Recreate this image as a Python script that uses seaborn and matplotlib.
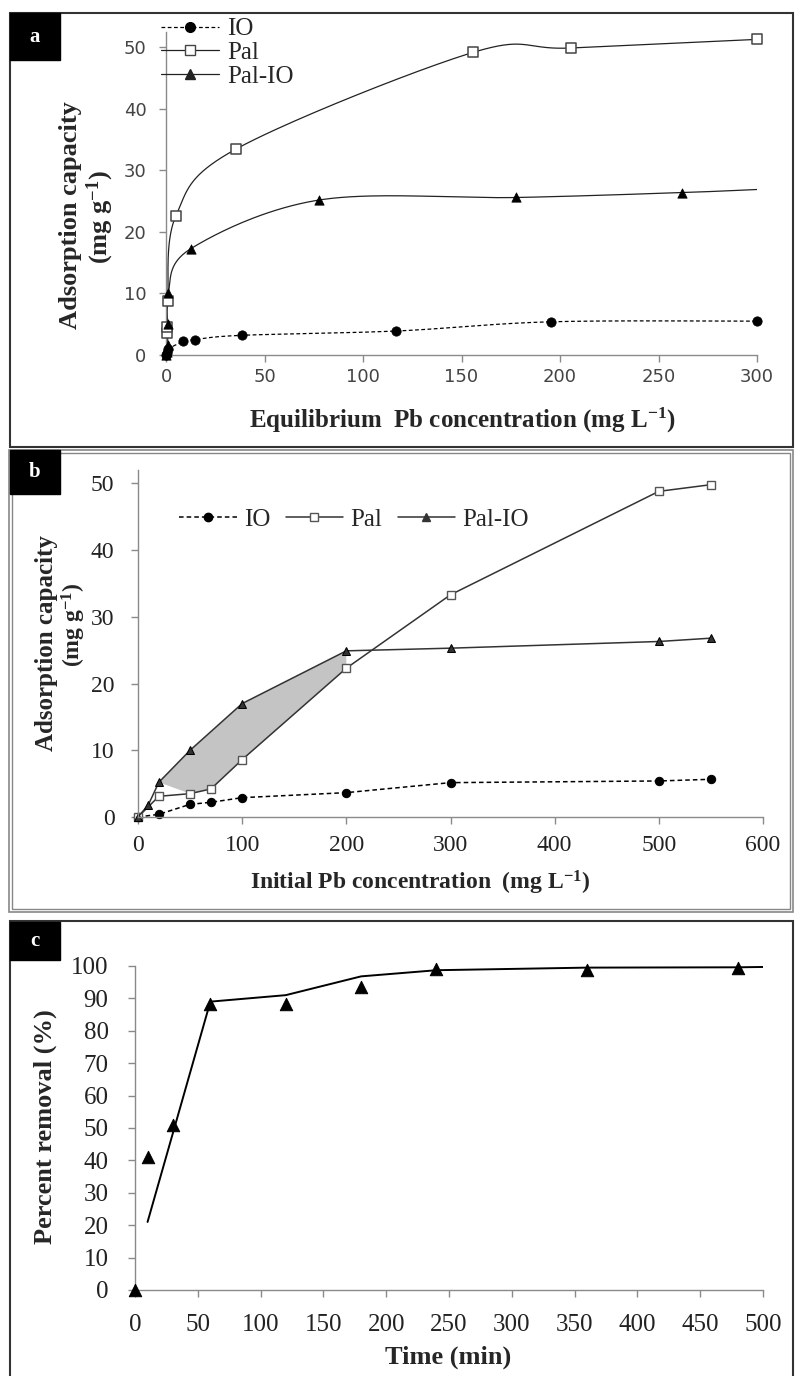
import numpy as np
import matplotlib
matplotlib.use('Agg')
import matplotlib.pyplot as plt
import seaborn as sns
from matplotlib.lines import Line2D
from matplotlib.patches import Rectangle

# panel a - equilibrium isotherm
a_io_x = [0, 0.3, 0.8, 8.8, 14.7, 38.4, 117, 195.5, 300]
a_io_y = [0, 0.3, 0.9, 2.2, 2.5, 3.2, 3.9, 5.4, 5.5]
a_pal_x = [0.3, 0.6, 0.9, 5, 35.7, 156, 205.5, 300]
a_pal_y = [3.5, 4.5, 8.7, 22.6, 33.5, 49.2, 49.9, 51.3]
a_palio_x = [0, 0.3, 0.8, 0.9, 1.0, 12.7, 77.9, 177.8, 261.7, 300]
a_palio_y = [0, 0.5, 1.6, 5.1, 10.0, 17.3, 25.2, 25.6, 26.4, 26.9]

# panel b - initial concentration
b_io_x = [0, 20, 50, 70, 100, 200, 300, 500, 550]
b_io_y = [0, 0.4, 1.9, 2.2, 2.9, 3.65, 5.15, 5.4, 5.65]
b_pal_x = [0, 20, 50, 70, 100, 200, 300, 500, 550]
b_pal_y = [0, 3.1, 3.5, 4.2, 8.6, 22.3, 33.3, 48.8, 49.8]
b_palio_x = [0, 10, 20, 50, 100, 200, 300, 500, 550]
b_palio_y = [0, 1.85, 5.2, 10.0, 17.0, 24.9, 25.3, 26.3, 26.8]

# panel c - kinetics
c_time = [0, 10, 30, 60, 120, 180, 240, 360, 480]
c_removal = [0, 41.2, 50.9, 88.2, 88.2, 93.4, 99.0, 98.8, 99.4]
c_fit_time = [10, 60, 120, 180, 240, 360, 480, 500]
c_fit_removal = [21.0, 89.0, 91.0, 96.8, 98.7, 99.5, 99.6, 99.7]

W, H = 795, 1376

sns.set_theme(style='white')
plt.rcParams['font.family'] = ['Liberation Serif', 'DejaVu Serif']
plt.rcParams['mathtext.fontset'] = 'custom'
plt.rcParams['mathtext.rm'] = 'Liberation Serif'
plt.rcParams['mathtext.bf'] = 'Liberation Serif:bold'
plt.rcParams['mathtext.it'] = 'Liberation Serif:italic'


def box(x0, y0, x1, y1):
    return [x0 / W, 1 - y1 / H, (x1 - x0) / W, (y1 - y0) / H]


def smooth(x, y, n=40):
    # excel style bezier smoothing
    p = np.column_stack([x, y]).astype(float)
    ext = np.vstack([p[0], p, p[-1]])
    t = np.linspace(0, 1, n)[:, None]
    out = []
    for i in range(1, len(p)):
        p0, p1, p2, p3 = ext[i - 1], ext[i], ext[i + 1], ext[i + 2]
        c1 = p1 + (p2 - p0) / 6
        c2 = p2 - (p3 - p1) / 6
        out.append((1 - t) ** 3 * p1 + 3 * (1 - t) ** 2 * t * c1 + 3 * (1 - t) * t ** 2 * c2 + t ** 3 * p2)
    s = np.vstack(out)
    return s[:, 0], s[:, 1]


def style_axes(ax, spine='#8a8a8a'):
    sns.despine(ax=ax)
    for s in ['left', 'bottom']:
        ax.spines[s].set_color(spine)
        ax.spines[s].set_linewidth(1.0)
    ax.tick_params(axis='both', direction='out', length=5, width=1, color=spine,
                   left=True, bottom=True)


def frame(x0, y0, x1, y1, **kw):
    fig.add_artist(Rectangle((x0 / W, 1 - y1 / H), (x1 - x0) / W, (y1 - y0) / H,
                             transform=fig.transFigure, fill=False, **kw))


def tag(x0, y0, x1, y1, letter):
    fig.add_artist(Rectangle((x0 / W, 1 - y1 / H), (x1 - x0) / W, (y1 - y0) / H,
                             transform=fig.transFigure, color='black', zorder=5))
    fig.text((x0 + x1) / 2 / W, 1 - (y0 + y1) / 2 / H, letter, color='white',
             fontsize=15, fontweight='bold', ha='center', va='center', zorder=6)


fig = plt.figure(figsize=(W / 100, H / 100), dpi=100)

# frames
frame(10, 13, 793, 447, ec='#333333', lw=1.5)
frame(9, 450, 793, 912, ec='#888888', lw=1.2)
frame(12, 453, 790, 909, ec='#888888', lw=1.0)
frame(10, 921, 793, 1390, ec='#333333', lw=1.5)
tag(10, 13, 60, 60, 'a')
tag(10, 450, 60, 494, 'b')
tag(10, 922, 60, 960, 'c')

# ---------------- panel a ----------------
ax = fig.add_axes(box(166, 32, 757, 355))
sx, sy = smooth(a_io_x, a_io_y)
sns.lineplot(x=sx, y=sy, sort=False, estimator=None, ax=ax, color='black', lw=0.9, linestyle=(0, (3, 2)))
sx, sy = smooth(a_pal_x, a_pal_y)
sns.lineplot(x=sx, y=sy, sort=False, estimator=None, ax=ax, color='#222222', lw=0.9)
sx, sy = smooth(a_palio_x, a_palio_y)
sns.lineplot(x=sx, y=sy, sort=False, estimator=None, ax=ax, color='#222222', lw=0.9)
sns.scatterplot(x=a_io_x, y=a_io_y, ax=ax, marker='o', color='black', edgecolor='black', s=45, clip_on=False, zorder=4)
sns.scatterplot(x=a_pal_x, y=a_pal_y, ax=ax, marker='s', color='white', edgecolor='#444444', linewidth=1.1, s=45, clip_on=False, zorder=4)
sns.scatterplot(x=a_palio_x[:-1], y=a_palio_y[:-1], ax=ax, marker='^', color='black', edgecolor='black', s=45, clip_on=False, zorder=4)
ax.set_xlim(0, 300)
ax.set_ylim(0, 52.5)
ax.set_xticks(range(0, 301, 50))
ax.set_yticks(range(0, 51, 10))
style_axes(ax)
ax.tick_params(axis='y', pad=9, labelsize=13, labelcolor='#444444')
ax.tick_params(axis='x', pad=4, labelsize=13, labelcolor='#444444')
for lab in ax.get_xticklabels() + ax.get_yticklabels():
    lab.set_family('DejaVu Sans')
ax.set_xlabel('')
ax.set_ylabel('')
h_a = [
    Line2D([], [], color='black', lw=0.9, linestyle=(0, (3, 2)), marker='o', ms=7),
    Line2D([], [], color='#222222', lw=0.9, marker='s', ms=7, mfc='white', mec='#444444'),
    Line2D([], [], color='#222222', lw=0.9, marker='^', ms=7),
]
ax.legend(h_a, ['IO', 'Pal', 'Pal-IO'], loc='upper left', bbox_to_anchor=(-0.025, 1.075),
          frameon=False, fontsize=18, handlelength=2.3, labelspacing=0.05, handletextpad=0.35,
          borderaxespad=0)
fig.text(70 / W, 1 - 215 / H, 'Adsorption capacity', rotation=90, ha='center', va='center',
         fontsize=19, fontweight='bold')
fig.text(100 / W, 1 - 217 / H, r'(mg g$^{\mathbf{-1}}$)', rotation=90, ha='center', va='center',
         fontsize=19, fontweight='bold')
fig.text(462 / W, 1 - 420 / H, r'Equilibrium  Pb concentration (mg L$^{\mathbf{-1}}$)',
         ha='center', va='center', fontsize=18, fontweight='bold')

# ---------------- panel b ----------------
ax = fig.add_axes(box(138, 470, 763, 817))
ax.fill(b_palio_x[2:6] + b_pal_x[5:1:-1], b_palio_y[2:6] + b_pal_y[5:1:-1],
        color='#c4c4c4', lw=0, zorder=1)
sns.lineplot(x=b_io_x, y=b_io_y, ax=ax, color='black', lw=1.1, linestyle=(0, (3, 2)),
             marker='o', ms=6, markeredgecolor='black', sort=False, estimator=None)
sns.lineplot(x=b_pal_x, y=b_pal_y, ax=ax, color='#333333', lw=1.1,
             marker='s', ms=6, markerfacecolor='white', markeredgecolor='#555555',
             markeredgewidth=1.0, sort=False, estimator=None)
sns.lineplot(x=b_palio_x, y=b_palio_y, ax=ax, color='#333333', lw=1.1,
             marker='^', ms=6, markeredgecolor='black', sort=False, estimator=None)
for ln in ax.lines:
    ln.set_clip_on(False)
ax.set_xlim(0, 600)
ax.set_ylim(0, 52)
ax.set_xticks(range(0, 601, 100))
ax.set_yticks(range(0, 51, 10))
style_axes(ax)
ax.tick_params(axis='y', pad=12, labelsize=17, labelcolor='#222222')
ax.tick_params(axis='x', pad=8, labelsize=17, labelcolor='#222222')
h_b = [
    Line2D([], [], color='black', lw=1.1, linestyle=(0, (3, 2)), marker='o', ms=6),
    Line2D([], [], color='#333333', lw=1.1, marker='s', ms=6, mfc='white', mec='#555555'),
    Line2D([], [], color='#333333', lw=1.1, marker='^', ms=6),
]
ax.legend(h_b, ['IO', 'Pal', 'Pal-IO'], loc='center left', bbox_to_anchor=(0.05, 0.857),
          frameon=False, fontsize=18, ncol=3, handlelength=2.3, handletextpad=0.3,
          columnspacing=0.6, borderaxespad=0)
fig.text(47 / W, 1 - 643 / H, 'Adsorption capacity', rotation=90, ha='center', va='center',
         fontsize=18, fontweight='bold')
fig.text(74 / W, 1 - 625 / H, r'(mg g$^{\mathbf{-1}}$)', rotation=90, ha='center', va='center',
         fontsize=17, fontweight='bold')
fig.text(420 / W, 1 - 883 / H, r'Initial Pb concentration  (mg L$^{\mathbf{-1}}$)',
         ha='center', va='center', fontsize=17, fontweight='bold')

# ---------------- panel c ----------------
ax = fig.add_axes(box(135, 966, 763, 1290))
sns.lineplot(x=c_fit_time, y=c_fit_removal, ax=ax, color='black', lw=1.4, sort=False, estimator=None)
sns.scatterplot(x=c_time, y=c_removal, ax=ax, marker='^', color='black', edgecolor='black',
                s=80, clip_on=False, zorder=4)
ax.set_xlim(0, 500)
ax.set_ylim(0, 100)
ax.set_xticks(range(0, 501, 50))
ax.set_yticks(range(0, 101, 10))
style_axes(ax)
ax.tick_params(axis='y', pad=14, labelsize=18, labelcolor='#222222')
ax.tick_params(axis='x', pad=12, labelsize=18, labelcolor='#222222')
fig.text(45 / W, 1 - 1127 / H, 'Percent removal (%)', rotation=90, ha='center', va='center',
         fontsize=19, fontweight='bold')
fig.text(448 / W, 1 - 1357 / H, 'Time (min)', ha='center', va='center',
         fontsize=19, fontweight='bold')

fig.savefig('out.png', dpi=100)
